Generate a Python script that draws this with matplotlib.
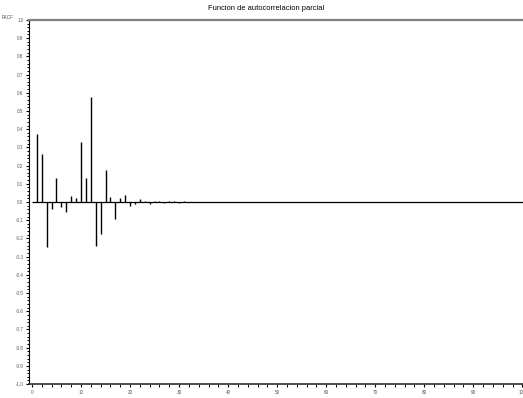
"""
Funcion de autocorrelacion parcial (PACF)
"""

import matplotlib
matplotlib.use("Agg")
import matplotlib.pyplot as plt
from matplotlib.ticker import MultipleLocator, FormatStrFormatter

# Valores de la PACF por retardo
lags = list(range(1, 41))
pacf = [0.371, 0.263, -0.246, -0.037, 0.134, -0.028, -0.057, 0.033, 0.020, 0.329,
        0.134, 0.575, -0.243, -0.176, 0.173, 0.028, -0.094, 0.020, 0.040, -0.024,
        -0.011, 0.018, 0.004, -0.010, 0.005, 0.008, -0.006, 0.004, 0.005, -0.003,
        0.003, 0.002, -0.002, 0.002, 0.001, -0.001, 0.001, 0.001, -0.001, 0.001]

xticks = list(range(0, 101, 10))
titulo = "Funcion de autocorrelacion parcial"

plt.rcParams["font.family"] = ["Liberation Sans", "DejaVu Sans"]
plt.rcParams["axes.unicode_minus"] = False

fig = plt.figure(figsize=(5.23, 3.98), dpi=100)
ax = fig.add_axes([0.0555, 0.035, 0.962, 0.915])

# Barras verticales y linea de cero
ax.vlines(lags, 0, pacf, color="black", linewidth=1.0)
ax.hlines(0, 0, 102, color="black", linewidth=0.9)

ax.set_xlim(-0.6, 102)
ax.set_ylim(-1.0, 1.0)

# Ejes
ax.spines["right"].set_visible(False)
ax.spines["top"].set_color("#808080")
ax.spines["top"].set_linewidth(1.6)
ax.spines["left"].set_color("black")
ax.spines["left"].set_linewidth(0.8)
ax.spines["bottom"].set_color("#404040")
ax.spines["bottom"].set_linewidth(1.3)

ax.set_xticks(xticks)
ax.xaxis.set_minor_locator(MultipleLocator(2))
ax.yaxis.set_major_locator(MultipleLocator(0.1))
ax.yaxis.set_minor_locator(MultipleLocator(0.02))
ax.yaxis.set_major_formatter(FormatStrFormatter("%.1f"))

ax.tick_params(axis="both", which="major", labelsize=3.3, labelcolor="#555555",
               length=2.5, width=0.8, pad=1.5, direction="out")
ax.tick_params(axis="both", which="minor", length=1.8, width=0.7, direction="out")

ax.text(-0.03, 1.0, "PACF", transform=ax.transAxes, fontsize=3.3,
        color="#555555", ha="right", va="bottom")

fig.text(266 / 523, 1 - 8 / 398, titulo, fontsize=5.4, ha="center", va="center")

fig.savefig("out.png", dpi=100)
